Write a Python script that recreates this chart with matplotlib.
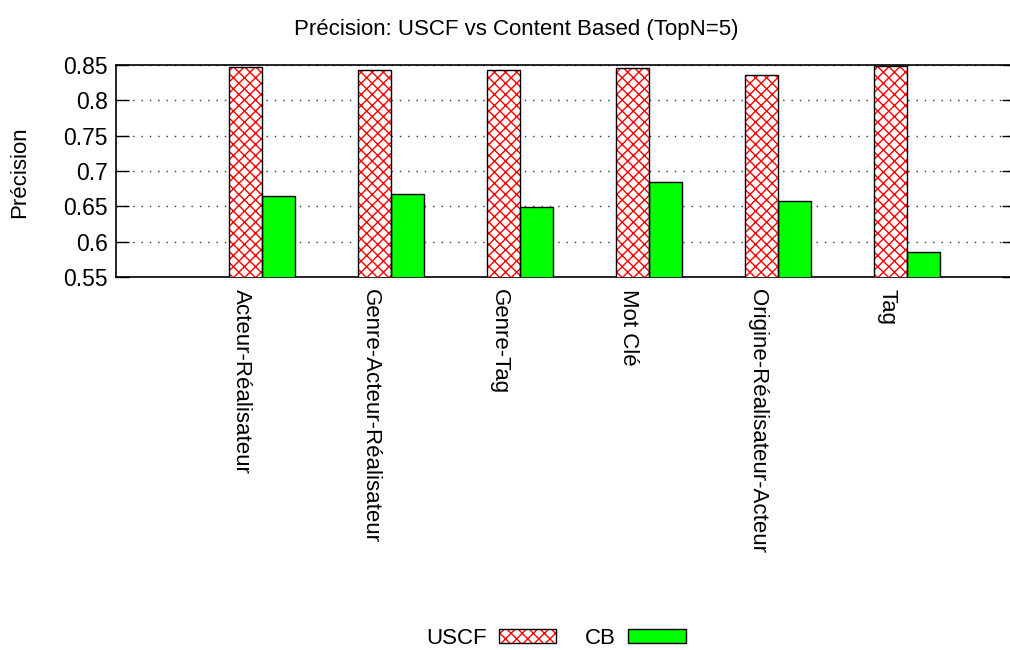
import numpy as np
import matplotlib
matplotlib.use("Agg")
import matplotlib.pyplot as plt
from matplotlib.patches import Patch
from matplotlib.legend_handler import HandlerTuple

categories = ["Acteur-Réalisateur", "Genre-Acteur-Réalisateur", "Genre-Tag",
              "Mot Clé", "Origine-Réalisateur-Acteur", "Tag"]
uscf = [0.847, 0.843, 0.843, 0.846, 0.836, 0.849]
cb = [0.665, 0.668, 0.649, 0.685, 0.658, 0.586]
yticks = [0.55, 0.6, 0.65, 0.7, 0.75, 0.8, 0.85]
ytick_labels = ["0.55", "0.6", "0.65", "0.7", "0.75", "0.8", "0.85"]


def main():
    plt.rcParams["font.family"] = ["Liberation Sans", "DejaVu Sans"]
    plt.rcParams["hatch.linewidth"] = 1.0

    fig = plt.figure(figsize=(10.1, 6.5), dpi=100)
    ax = fig.add_axes([116 / 1010, 1 - 277 / 650, (1014 - 116) / 1010, (277 - 65) / 650])

    x = np.arange(len(categories))
    w = 0.256

    # USCF: red cross hatch, black outline on top
    ax.bar(x - w / 2, uscf, w, color="white", edgecolor="red",
           hatch="xxx", linewidth=0, zorder=3)
    ax.bar(x - w / 2, uscf, w, fill=False, edgecolor="black", linewidth=1, zorder=4)
    ax.bar(x + w / 2, cb, w, color="#00ff00", edgecolor="black", linewidth=1, zorder=3)

    ax.set_ylim(0.55, 0.85)
    ax.set_xlim(-1.132, (1014 - 262) / 129)
    ax.set_yticks(yticks)
    ax.set_yticklabels(ytick_labels, fontsize=16.5)
    ax.tick_params(axis="y", direction="in", length=9, width=1, pad=6, right=True)

    ax.set_xticks(x - w / 2 - 0.03)
    ax.set_xticklabels(categories, rotation=-90, fontsize=16, va="top", ha="center")
    ax.tick_params(axis="x", length=0, pad=9)

    ax.grid(axis="y", linestyle=(0, (1, 5)), color="#333333", linewidth=1, zorder=0)
    ax.set_axisbelow(True)
    for s in ax.spines.values():
        s.set_linewidth(1.2)
    ax.spines["right"].set_visible(False)

    fig.text(20 / 1010, 1 - 172 / 650, "Précision", rotation=90, fontsize=16,
             ha="center", va="center")
    fig.text(516 / 1010, 1 - 30 / 650, "Précision: USCF vs Content Based (TopN=5)",
             fontsize=16, ha="center", va="center")

    uscf_handle = (Patch(facecolor="white", edgecolor="red", hatch="xxx", linewidth=0),
                   Patch(fill=False, edgecolor="black", linewidth=1))
    cb_handle = Patch(facecolor="#00ff00", edgecolor="black", linewidth=1)
    fig.legend([uscf_handle, cb_handle], ["USCF", "CB"], loc="center", ncol=2,
               bbox_to_anchor=(556 / 1010, 1 - 638 / 650), frameon=False,
               fontsize=16, markerfirst=False, handlelength=2.6,
               handleheight=0.6, columnspacing=1.3, handletextpad=0.55,
               handler_map={tuple: HandlerTuple(ndivide=1, pad=0)})

    fig.savefig("out.png", dpi=100)
    plt.close(fig)


if __name__ == "__main__":
    main()
